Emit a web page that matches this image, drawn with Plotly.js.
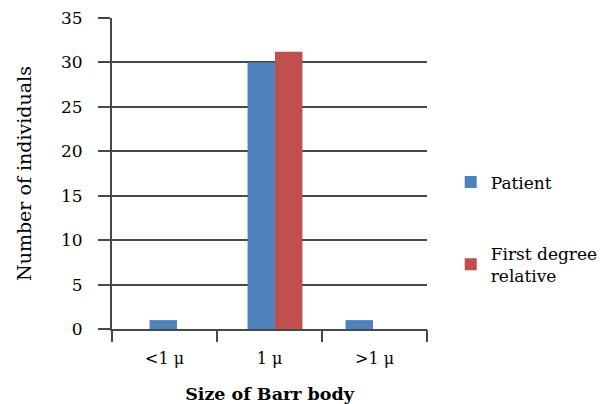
<!DOCTYPE html>
<html>
<head>
<meta charset="utf-8">
<script src="https://cdn.plot.ly/plotly-3.0.1.min.js"></script>
<style>html,body{margin:0;padding:0;background:#fff;}#chart{width:605px;height:404px;}</style>
</head>
<body>
<div id="chart"></div>
<script>
const categories = ['<1 μ', '1 μ', '>1 μ'];
const patient = [1, 30, 1];
const relative = [0, 31.2, 0];
const seriesNames = ['Patient', 'First degree<br>relative'];
const yTicks = [0, 5, 10, 15, 20, 25, 30, 35];

const FONT = 'DejaVu Serif, serif';
const LINE = '#484848';

const traces = [
  {type: 'bar', x: categories, y: patient, name: seriesNames[0], legendgroup: 'a',
   marker: {color: '#4F81BD'}, xaxis: 'x', yaxis: 'y'},
  {type: 'bar', x: categories, y: relative, name: seriesNames[1], legendgroup: 'b',
   marker: {color: '#C0504D'}, xaxis: 'x', yaxis: 'y'},
  // invisible helper trace so the label axis (category boundaries) is drawn
  {type: 'scatter', mode: 'markers', x: categories.map((c, i) => i + 0.5), y: patient,
   marker: {opacity: 0, size: 1}, showlegend: false, hoverinfo: 'skip', xaxis: 'x2', yaxis: 'y'}
];

const layout = {
  width: 605, height: 404,
  margin: {l: 112, r: 178, t: 18, b: 75},
  paper_bgcolor: '#fff', plot_bgcolor: '#fff',
  font: {family: FONT, size: 16, color: '#000'},
  barmode: 'group',
  bargap: 0.44,
  bargroupgap: 0,
  xaxis: {
    type: 'category', range: [-0.663, 2.551],
    showticklabels: false, ticks: '', showgrid: false,
    showline: true, linecolor: LINE, linewidth: 2,
    zeroline: false, fixedrange: true
  },
  xaxis2: {
    overlaying: 'x', anchor: 'y', side: 'bottom',
    type: 'linear', range: [0, categories.length],
    tickvals: categories.map((c, i) => i + 0.5),
    ticktext: categories,
    ticks: '', showgrid: false, showline: false, zeroline: false,
    tickfont: {family: FONT, size: 16},
    ticklabelstandoff: 18,
    minor: {tick0: 0, dtick: 1, ticks: 'outside', ticklen: 12, tickwidth: 2, tickcolor: LINE, showgrid: false},
    title: {text: '<b>Size of Barr body</b>', font: {family: FONT, size: 17.5}, standoff: 21}
  },
  yaxis: {
    range: [0, 35], tickvals: yTicks, ticks: 'outside', ticklen: 12, tickwidth: 2, tickcolor: LINE,
    showgrid: true, gridcolor: LINE, gridwidth: 2,
    showline: true, linecolor: LINE, linewidth: 2, zeroline: false,
    tickfont: {family: FONT, size: 17},
    ticklabelstandoff: 12,
    title: {text: 'Number of individuals', font: {family: FONT, size: 19}, standoff: 24}
  },
  legend: {
    xref: 'container', yref: 'container',
    x: 0.745, xanchor: 'left', y: 0.593, yanchor: 'top',
    tracegroupgap: 46, font: {family: FONT, size: 17},
    traceorder: 'grouped', bgcolor: 'rgba(0,0,0,0)', itemwidth: 30
  },
  showlegend: true
};

Plotly.newPlot('chart', traces, layout, {displayModeBar: false, staticPlot: true});
</script>
</body>
</html>
